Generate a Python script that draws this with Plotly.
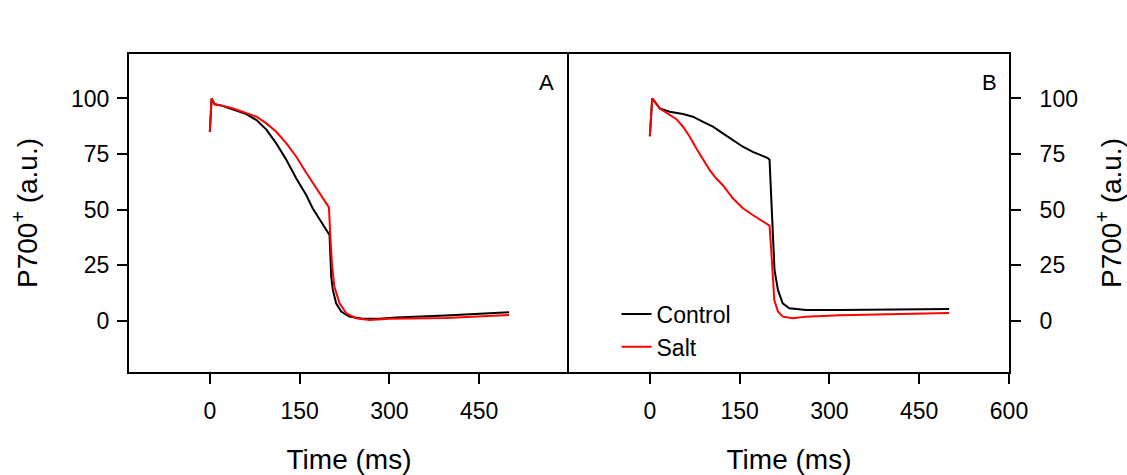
import plotly.graph_objects as go

# Panel A data
t_A_control = [0, 3, 8, 17, 39, 61, 78, 94.5, 111, 128, 144.5, 161, 172, 185, 200, 202.8, 205.5, 211, 219.5, 233, 255.5, 283, 311, 394, 500]
y_A_control = [85, 100, 97.4, 97, 95, 93, 90.3, 86, 79.8, 72.3, 64, 56.6, 50.5, 45, 38.6, 19.9, 13.9, 7.9, 4.2, 1.9, 0.9, 0.9, 1.5, 2.4, 3.9]

t_A_salt = [0, 3, 8, 17, 39, 61, 78, 94.5, 111, 128, 144.5, 161, 172, 185, 199, 201, 204.4, 208, 216.7, 228, 244.5, 266.7, 300, 394, 500]
y_A_salt = [85, 100, 97.4, 97, 95.5, 93.5, 91.8, 88.8, 85, 79.8, 73.8, 66.6, 62, 57, 51, 39.4, 24.4, 15.4, 7.9, 3.4, 1.2, 0.4, 0.9, 1.3, 2.6]

# Panel B data
t_B_control = [0, 4, 16.7, 33, 55.5, 72, 89, 105.5, 122, 139, 155.5, 172, 189, 197, 200, 202.8, 205.5, 208.3, 214, 222, 233, 261, 317, 400, 500]
y_B_control = [83, 100, 95.5, 94, 93, 91.8, 89.5, 87.3, 84.3, 81.3, 78.3, 76, 74.1, 73.2, 72.5, 54.3, 34.9, 22.9, 13.9, 7.9, 5.7, 4.9, 4.9, 5.1, 5.3]

t_B_salt = [0, 4, 16.7, 33, 44.4, 55.5, 66.7, 77.8, 89, 100, 111, 122, 139, 155.5, 172, 189, 200, 202.8, 205.5, 208, 214, 222, 239, 261, 317, 400, 500]
y_B_salt = [83, 100, 95.5, 92.5, 90.7, 87.3, 82.8, 77.5, 72.3, 67.8, 64, 61, 55, 50.6, 47.6, 44.6, 42.8, 31.9, 16.9, 9.4, 4.2, 1.9, 1.2, 1.9, 2.5, 3.0, 3.5]

x_ticks_A = [0, 150, 300, 450]
x_ticks_B = [0, 150, 300, 450, 600]
y_ticks = [0, 25, 50, 75, 100]

FONT = "Liberation Sans, Arial, sans-serif"
BLACK = "#000000"
RED = "#ff0000"

fig = go.Figure()
fig.add_trace(go.Scatter(x=t_A_control, y=y_A_control, mode="lines", line=dict(color=BLACK, width=2),
                         name="Control", showlegend=False, xaxis="x", yaxis="y"))
fig.add_trace(go.Scatter(x=t_A_salt, y=y_A_salt, mode="lines", line=dict(color=RED, width=2),
                         name="Salt", showlegend=False, xaxis="x", yaxis="y"))
fig.add_trace(go.Scatter(x=t_B_control, y=y_B_control, mode="lines", line=dict(color=BLACK, width=2),
                         name="Control", xaxis="x2", yaxis="y2"))
fig.add_trace(go.Scatter(x=t_B_salt, y=y_B_salt, mode="lines", line=dict(color=RED, width=2),
                         name="Salt", xaxis="x2", yaxis="y2"))

axis_common = dict(showgrid=False, zeroline=False, showline=True, linecolor=BLACK, linewidth=2,
                   ticks="outside", ticklen=10, tickwidth=2, tickcolor=BLACK, automargin=False,
                   tickfont=dict(family=FONT, size=23, color=BLACK))
title_font = dict(family=FONT, size=28, color=BLACK)
ytitle = "P700<sup>+</sup> (a.u.)"

fig.update_layout(
    width=1127, height=475,
    margin=dict(l=129, r=118, t=54, b=103),
    paper_bgcolor="white", plot_bgcolor="white",
    font=dict(family=FONT, color=BLACK),
    xaxis=dict(domain=[0, 0.5], range=[-135, 600], tickvals=x_ticks_A, anchor="y", mirror=True,
               ticklabelstandoff=7,
               title=dict(text="Time (ms)", font=title_font, standoff=29), **axis_common),
    xaxis2=dict(domain=[0.5, 1], range=[-135, 600], tickvals=x_ticks_B, anchor="y2", mirror=True,
                ticklabelstandoff=7,
                title=dict(text="Time (ms)", font=title_font, standoff=29), **axis_common),
    yaxis=dict(range=[-23, 120], tickvals=y_ticks, anchor="x", mirror=False, ticklabelstandoff=3,
               title=dict(text=ytitle, font=title_font, standoff=25), **axis_common),
    yaxis2=dict(range=[-23, 120], tickvals=y_ticks, anchor="x2", side="right", mirror=True,
                ticklabelstandoff=14,
                title=dict(text=ytitle, font=title_font, standoff=27), **axis_common),
    legend=dict(x=0.554, y=0.25, xanchor="left", yanchor="top", bgcolor="rgba(0,0,0,0)",
                font=dict(family=FONT, size=23, color=BLACK), tracegroupgap=0),
    annotations=[
        dict(text="A", xref="paper", yref="paper", x=(556 - 129) / 880, y=(372 - 68) / 318,
             xanchor="right", yanchor="top", showarrow=False, font=dict(family=FONT, size=22, color=BLACK)),
        dict(text="B", xref="paper", yref="paper", x=(999 - 129) / 880, y=(372 - 68) / 318,
             xanchor="right", yanchor="top", showarrow=False, font=dict(family=FONT, size=22, color=BLACK)),
    ],
)

fig.write_html("out.html")
